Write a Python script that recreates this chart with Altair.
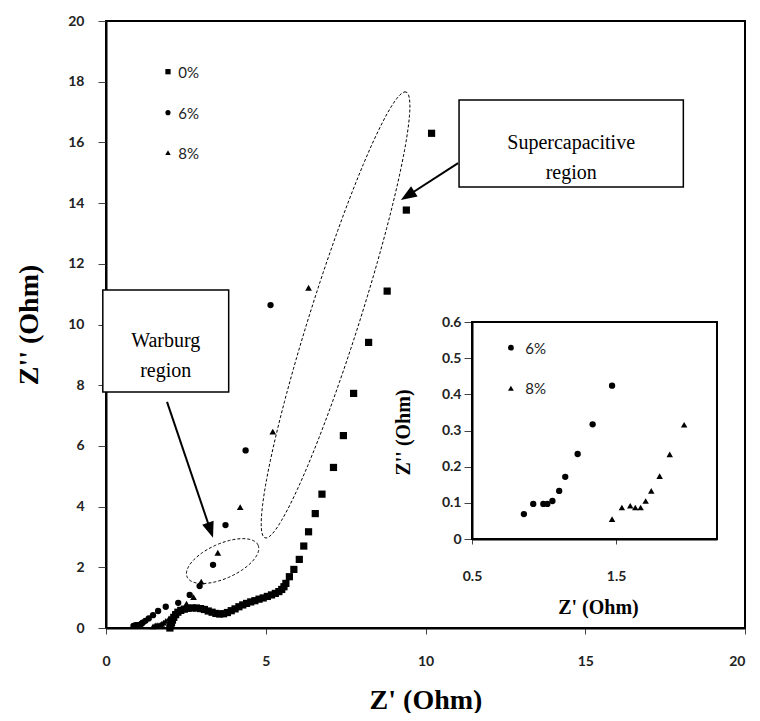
import math
import altair as alt
import numpy as np
import pandas as pd

# ---------------- data ----------------
series_names = ["0%", "6%", "8%"]

re_0 = [2.00, 2.02, 2.05, 2.08, 2.12, 2.18, 2.25, 2.34, 2.45, 2.57,
        2.70, 2.83, 2.96, 3.08, 3.20, 3.32, 3.44, 3.56, 3.68, 3.80,
        3.92, 4.04, 4.16, 4.28, 4.40, 4.53, 4.66, 4.79, 4.92, 5.05,
        5.18, 5.30, 5.41, 5.50, 5.57, 5.63, 5.74, 5.88, 6.05, 6.19,
        6.34, 6.55, 6.76, 7.12, 7.43, 7.75, 8.22, 8.80, 9.40, 10.19]
im_0 = [0.00, 0.08, 0.17, 0.26, 0.35, 0.44, 0.52, 0.58, 0.62, 0.65,
        0.66, 0.66, 0.64, 0.61, 0.56, 0.52, 0.48, 0.46, 0.47, 0.51,
        0.57, 0.63, 0.70, 0.76, 0.81, 0.86, 0.90, 0.95, 0.99, 1.04,
        1.09, 1.14, 1.20, 1.27, 1.36, 1.47, 1.69, 1.93, 2.26, 2.70,
        3.17, 3.77, 4.41, 5.29, 6.34, 7.73, 9.41, 11.10, 13.77, 16.30]

re_6 = [0.86, 0.925, 0.995, 1.023, 1.058, 1.105, 1.147, 1.233, 1.337, 1.472,
        1.63, 1.87, 2.26, 2.62, 2.93, 3.35, 3.74, 4.37, 5.15]
im_6 = [0.069, 0.097, 0.097, 0.097, 0.105, 0.133, 0.172, 0.235, 0.317, 0.424,
        0.56, 0.70, 0.83, 1.09, 1.38, 2.08, 3.39, 5.85, 10.64]

re_8 = [1.472, 1.540, 1.598, 1.633, 1.670, 1.705, 1.744, 1.802, 1.872, 1.972,
        2.12, 2.32, 2.52, 2.74, 2.98, 3.50, 4.20, 5.22, 6.34]
im_8 = [0.055, 0.087, 0.092, 0.087, 0.087, 0.105, 0.133, 0.174, 0.234, 0.316,
        0.44, 0.60, 0.80, 1.02, 1.53, 2.48, 3.98, 6.47, 11.21]

# inset (zoom of the high-frequency end)
in_re_6 = [0.86, 0.925, 0.995, 1.023, 1.058, 1.105, 1.147, 1.233, 1.337, 1.472]
in_im_6 = [0.069, 0.097, 0.097, 0.097, 0.105, 0.133, 0.172, 0.235, 0.317, 0.424]
in_re_8 = [1.472, 1.540, 1.598, 1.633, 1.670, 1.705, 1.744, 1.802, 1.872, 1.972]
in_im_8 = [0.055, 0.087, 0.092, 0.087, 0.087, 0.105, 0.133, 0.174, 0.234, 0.316]

main_xticks = [0, 5, 10, 15, 20]
main_yticks = [0, 2, 4, 6, 8, 10, 12, 14, 16, 18, 20]
inset_xticks = [0.5, 1.5]
inset_yticks = [0, 0.1, 0.2, 0.3, 0.4, 0.5, 0.6]

# annotation anchors (data units of the main plot)
box_labels = ["Warburg\nregion", "Supercapacitive\nregion"]
box_x1 = [-0.1, 11.05]
box_x2 = [3.84, 18.07]
box_y1 = [7.78, 14.53]
box_y2 = [11.14, 17.40]
arrow_tail = [(1.91, 7.45), (11.02, 15.32)]
arrow_tip = [(3.35, 2.97), (9.23, 14.10)]
ellipse_ends = [((2.54, 1.68), (4.76, 2.73)), ((4.98, 2.97), (9.39, 17.66))]
ellipse_halfwidth = [0.57, 0.82]

# ---------------- layout ----------------
W, H = 639, 607
SX, SY = W / 20.0, H / 20.0
INSET_XR = [366, 611]
INSET_YR = [518, 301]

LABEL_FONT = "Lato"
SERIF = "Liberation Serif"

ax_mx = alt.Axis(values=main_xticks, title="Z' (Ohm)", grid=False,
                 titleFont=SERIF, titleFontSize=28, titleFontWeight="bold", titleColor="black",
                 titleX=W / 2, titleY=72, titleBaseline="middle", titleAlign="center",
                 labelFont=LABEL_FONT, labelFontSize=14, labelFontWeight="bold", labelColor="#222222",
                 labelAlign={"expr": "datum.value == 20 ? 'right' : 'center'"},
                 labelPadding=20, tickSize=6, tickColor="#444444", tickWidth=1,
                 domainColor="black", domainWidth=2, labelFlush=False)
ax_my = alt.Axis(values=main_yticks, title="Z'' (Ohm)", grid=False,
                 titleFont=SERIF, titleFontSize=28, titleFontWeight="bold", titleColor="black",
                 titleX=-77, titleY=H / 2, titleBaseline="middle", titleAlign="center", titleAngle=270,
                 labelFont=LABEL_FONT, labelFontSize=14, labelFontWeight="bold", labelColor="#222222",
                 labelPadding=14, tickSize=8, tickColor="#444444", tickWidth=1,
                 domainColor="black", domainWidth=2, labelFlush=False)
ms_x = alt.Scale(domain=[0, 20], nice=False, zero=False)
ms_y = alt.Scale(domain=[0, 20], nice=False, zero=False)


def MX(f):
    return alt.X(f, type="quantitative", scale=ms_x, axis=ax_mx)


def MY(f):
    return alt.Y(f, type="quantitative", scale=ms_y, axis=ax_my)


ax_ix = alt.Axis(values=inset_xticks, orient="bottom", offset=-(H - INSET_YR[0]), format=".1f",
                 title="Z' (Ohm)", grid=False,
                 titleFont=SERIF, titleFontSize=20, titleFontWeight="bold", titleColor="black",
                 titleX=492, titleY=68, titleBaseline="middle", titleAlign="center",
                 labelFont=LABEL_FONT, labelFontSize=14, labelFontWeight="bold", labelColor="#222222",
                 labelPadding=25, tickSize=5, tickColor="#444444", tickWidth=1,
                 domainColor="black", domainWidth=2, labelFlush=False)
ax_iy = alt.Axis(values=inset_yticks, orient="left", offset=-INSET_XR[0],
                 labelExpr="datum.value == 0 ? '0' : format(datum.value, '.1f')",
                 title="Z'' (Ohm)", grid=False,
                 titleFont=SERIF, titleFontSize=20, titleFontWeight="bold", titleColor="black",
                 titleX=-69, titleY=411, titleBaseline="middle", titleAlign="center", titleAngle=270,
                 labelFont=LABEL_FONT, labelFontSize=14, labelFontWeight="bold", labelColor="#222222",
                 labelPadding=3, tickSize=8, tickColor="#444444", tickWidth=1,
                 domainColor="black", domainWidth=2, labelFlush=False)
is_x = alt.Scale(domain=[0.5, 2.2], range=INSET_XR, nice=False, zero=False)
is_y = alt.Scale(domain=[0, 0.6], range=INSET_YR, nice=False, zero=False)


def IX(f):
    return alt.X(f, type="quantitative", scale=is_x, axis=ax_ix)


def IY(f):
    return alt.Y(f, type="quantitative", scale=is_y, axis=ax_iy)


# ---------------- main plot layers ----------------
d0 = pd.DataFrame({"x": re_0, "y": im_0})
d6 = pd.DataFrame({"x": re_6, "y": im_6})
d8 = pd.DataFrame({"x": re_8, "y": im_8})

p0 = alt.Chart(d0).mark_point(shape="square", filled=True, color="black", size=52, opacity=1).encode(x=MX("x"), y=MY("y"))
p6 = alt.Chart(d6).mark_point(shape="circle", filled=True, color="black", size=40, opacity=1).encode(x=MX("x"), y=MY("y"))
p8 = alt.Chart(d8).mark_point(shape="triangle-up", filled=True, color="black", size=45, opacity=1).encode(x=MX("x"), y=MY("y"))

# legend of the main plot
leg_y = [18.33, 16.98, 15.66]
leg_shapes = ["square", "circle", "triangle-up"]
leg_sizes = [28, 26, 30]
leg_layers = []
for name, yy, shp, sz in zip(series_names, leg_y, leg_shapes, leg_sizes):
    dl = pd.DataFrame({"x": [1.94], "y": [yy], "t": [name], "xt": [2.26]})
    leg_layers.append(alt.Chart(dl).mark_point(shape=shp, filled=True, color="black", size=sz, opacity=1)
                      .encode(x=MX("x"), y=MY("y")))
    leg_layers.append(alt.Chart(dl).mark_text(font=LABEL_FONT, fontSize=15, align="left", baseline="middle",
                                               color="#222222", dy=1)
                      .encode(x=MX("xt"), y=MY("y"), text="t:N"))

# text boxes
dbox = pd.DataFrame({"x": box_x1, "x2": box_x2, "y": box_y1, "y2": box_y2, "t": box_labels,
                     "xc": [(a + b) / 2 for a, b in zip(box_x1, box_x2)],
                     "yc": [(a + b) / 2 for a, b in zip(box_y1, box_y2)]})
boxes = alt.Chart(dbox).mark_rect(fill="white", stroke="black", strokeWidth=1.5).encode(
    x=MX("x"), x2="x2", y=MY("y"), y2="y2")
box_text = alt.Chart(dbox).mark_text(font=SERIF, fontSize=20, lineBreak="\n", lineHeight=30,
                                     align="center", baseline="middle", color="black").encode(
    x=MX("xc"), y=MY("yc"), text="t:N")

# dashed ellipses
ell_rows = []
for k, ((p1, p2), bw) in enumerate(zip(ellipse_ends, ellipse_halfwidth)):
    ax1, ay1 = p1[0] * SX, p1[1] * SY
    ax2, ay2 = p2[0] * SX, p2[1] * SY
    cx, cy = (ax1 + ax2) / 2, (ay1 + ay2) / 2
    a = math.hypot(ax2 - ax1, ay2 - ay1) / 2
    ux, uy = (ax2 - ax1) / (2 * a), (ay2 - ay1) / (2 * a)
    vx, vy = -uy, ux
    b = bw * SY
    for i, t in enumerate(np.linspace(0, 2 * np.pi, 161)):
        px = cx + a * np.cos(t) * ux + b * np.sin(t) * vx
        py = cy + a * np.cos(t) * uy + b * np.sin(t) * vy
        ell_rows.append({"e": k, "o": i, "x": px / SX, "y": py / SY})
dell = pd.DataFrame(ell_rows)
ellipses = alt.Chart(dell).mark_line(color="black", strokeWidth=1, strokeDash=[3, 2]).encode(
    x=MX("x"), y=MY("y"), detail="e:N", order="o:Q")

# arrows
arrow_layers = []
HEAD = 8.0
for (tx, ty), (hx, hy) in zip(arrow_tail, arrow_tip):
    dxs = (hx - tx) * SX
    dys = -(hy - ty) * SY
    L = math.hypot(dxs, dys)
    ux, uy = dxs / L, dys / L
    cxs = hx - ux * HEAD / SX
    cys = hy + uy * HEAD / SY
    ang = math.degrees(math.atan2(dxs, -dys)) % 360
    da = pd.DataFrame({"x": [tx], "y": [ty], "x2": [cxs], "y2": [cys]})
    arrow_layers.append(alt.Chart(da).mark_rule(color="black", strokeWidth=2).encode(
        x=MX("x"), y=MY("y"), x2="x2", y2="y2"))
    dh = pd.DataFrame({"x": [cxs], "y": [cys]})
    arrow_layers.append(alt.Chart(dh).mark_point(shape="M0,-1L0.75,1L-0.75,1Z", filled=True, color="black",
                                                 size=256, angle=ang, opacity=1).encode(x=MX("x"), y=MY("y")))

main = alt.layer(ellipses, p0, p6, p8, *leg_layers, *arrow_layers, boxes, box_text)

# ---------------- inset ----------------
di6 = pd.DataFrame({"x": in_re_6, "y": in_im_6})
di8 = pd.DataFrame({"x": in_re_8, "y": in_im_8})
frame = alt.Chart(pd.DataFrame({"x": [0.5], "x2": [2.2], "y": [0.0], "y2": [0.6]})).mark_rect(
    fill="white", fillOpacity=0, stroke="black", strokeWidth=2).encode(x=IX("x"), x2="x2", y=IY("y"), y2="y2")
i6 = alt.Chart(di6).mark_point(shape="circle", filled=True, color="black", size=40, opacity=1).encode(x=IX("x"), y=IY("y"))
i8 = alt.Chart(di8).mark_point(shape="triangle-up", filled=True, color="black", size=42, opacity=1).encode(x=IX("x"), y=IY("y"))
ileg = pd.DataFrame({"x": [0.77, 0.77], "y": [0.529, 0.417], "t": series_names[1:], "xt": [0.87, 0.87]})
il6 = alt.Chart(ileg.iloc[[0]]).mark_point(shape="circle", filled=True, color="black", size=34, opacity=1).encode(x=IX("x"), y=IY("y"))
il8 = alt.Chart(ileg.iloc[[1]]).mark_point(shape="triangle-up", filled=True, color="black", size=34, opacity=1).encode(x=IX("x"), y=IY("y"))
ilt = alt.Chart(ileg).mark_text(font=LABEL_FONT, fontSize=15, align="left", baseline="middle", color="#222222", dy=1).encode(
    x=IX("xt"), y=IY("y"), text="t:N")
inset = alt.layer(frame, i6, i8, il6, il8, ilt)

chart = alt.layer(main, inset).resolve_scale(x="independent", y="independent").properties(
    width=W, height=H,
    autosize=alt.AutoSizeParams(type="none"),
    padding={"left": 98, "top": 13, "right": 6, "bottom": 85},
).configure_view(stroke="black", strokeWidth=2)

chart.save("out.html", embed_options={"renderer": "svg", "actions": False})
